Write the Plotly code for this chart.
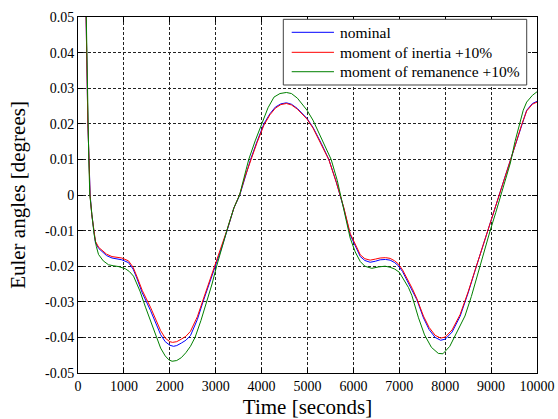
import plotly.graph_objects as go

# ---------------- data ----------------
t_nominal = [150, 185, 215, 240, 265, 300, 340, 380, 450, 520, 620, 740, 850, 955,
             1100, 1200, 1280, 1400, 1578, 1700, 1800, 1900, 2000, 2080, 2150, 2250,
             2350, 2450, 2600, 2724, 2860, 2992, 3138, 3260, 3395, 3525, 3640, 3760,
             3900, 4050, 4180, 4300, 4420, 4540, 4650, 4780, 4990, 5120, 5300, 5465,
             5630, 5790, 5930, 6040, 6150, 6250, 6365, 6480, 6583, 6700, 6800, 6900,
             6982, 7070, 7164, 7280, 7382, 7526, 7650, 7780, 7900, 8000, 8150, 8324,
             8500, 8680, 8800, 8927, 9050, 9177, 9300, 9427, 9550, 9667, 9775, 9900, 10000]
y_nominal = [0.07, 0.040, 0.020, 0.010, 0.000, -0.0055, -0.0100, -0.0134, -0.0150, -0.0158,
             -0.0170, -0.0177, -0.0180, -0.0182, -0.0190, -0.0208, -0.0233, -0.0275, -0.0324,
             -0.0362, -0.0392, -0.0412, -0.0422, -0.0425, -0.0423, -0.0416, -0.0408, -0.0395,
             -0.0350, -0.0300, -0.0250, -0.0200, -0.0145, -0.0095, -0.0037, 0.0000, 0.0052,
             0.0100, 0.0150, 0.0200, 0.0228, 0.0247, 0.0256, 0.0259, 0.0255, 0.0243, 0.0215,
             0.0190, 0.0145, 0.0100, 0.0035, -0.0037, -0.0112, -0.0145, -0.0173, -0.0184,
             -0.0189, -0.0186, -0.0182, -0.0181, -0.0183, -0.0190, -0.0199, -0.0215, -0.0238,
             -0.0265, -0.0294, -0.0345, -0.0378, -0.0400, -0.0408, -0.0405, -0.0385, -0.0341,
             -0.0275, -0.0200, -0.0150, -0.0100, -0.0050, 0.0000, 0.0050, 0.0100, 0.0152,
             0.0200, 0.0238, 0.0257, 0.0263]

t_inertia = [150, 185, 192, 215, 240, 262, 300, 340, 380, 450, 520, 620, 740, 850, 955,
             1100, 1200, 1280, 1400, 1578, 1700, 1800, 1900, 2000, 2060, 2150, 2250,
             2350, 2450, 2600, 2724, 2860, 2992, 3138, 3260, 3395, 3525, 3640, 3760,
             3900, 4050, 4180, 4300, 4420, 4540, 4650, 4780, 4990, 5120, 5300, 5465,
             5630, 5790, 5930, 6040, 6150, 6250, 6365, 6480, 6583, 6700, 6800, 6900,
             6982, 7070, 7164, 7280, 7382, 7526, 7650, 7780, 7900, 8000, 8150, 8324,
             8500, 8680, 8800, 8927, 9050, 9177, 9300, 9427, 9550, 9667, 9775, 9900, 10000]
y_inertia = [0.07, 0.040, 0.035, 0.020, 0.010, 0.000, -0.0055, -0.0098, -0.0130, -0.0147,
             -0.0155, -0.0166, -0.0173, -0.0176, -0.0177, -0.0185, -0.0203, -0.0228, -0.0268,
             -0.0315, -0.0352, -0.0381, -0.0402, -0.0412, -0.0414, -0.0412, -0.0405, -0.0397,
             -0.0383, -0.0342, -0.0295, -0.0245, -0.0195, -0.0142, -0.0093, -0.0037, 0.0002,
             0.0052, 0.0098, 0.0147, 0.0196, 0.0225, 0.0244, 0.0254, 0.0257, 0.0253, 0.0241,
             0.0213, 0.0188, 0.0143, 0.0099, 0.0035, -0.0035, -0.0108, -0.0140, -0.0168,
             -0.0179, -0.0183, -0.0180, -0.0177, -0.0176, -0.0178, -0.0185, -0.0194, -0.0210,
             -0.0233, -0.0262, -0.0291, -0.0340, -0.0372, -0.0394, -0.0402, -0.0399, -0.0379,
             -0.0336, -0.0272, -0.0198, -0.0149, -0.0100, -0.0050, 0.0000, 0.0049, 0.0098,
             0.0150, 0.0198, 0.0236, 0.0255, 0.0261]

t_remanence = [140, 215, 235, 257, 300, 350, 400, 447, 550, 665, 780, 880, 1030, 1120,
               1210, 1350, 1470, 1578, 1700, 1800, 1900, 1980, 2050, 2150, 2250, 2350,
               2450, 2550, 2680, 2810, 2920, 3020, 3150, 3270, 3400, 3520, 3620, 3720,
               3860, 4000, 4140, 4270, 4400, 4540, 4650, 4780, 4990, 5120, 5300, 5515,
               5650, 5790, 5930, 6040, 6150, 6250, 6400, 6550, 6690, 6800, 6900, 7000,
               7100, 7200, 7273, 7418, 7550, 7700, 7850, 7950, 8100, 8250, 8430, 8570,
               8700, 8850, 8980, 9100, 9220, 9420, 9520, 9616, 9700, 9775, 9900, 10000]
y_remanence = [0.08, 0.020, 0.010, 0.000, -0.0060, -0.0110, -0.0145, -0.0167, -0.0185,
               -0.0196, -0.0199, -0.0201, -0.0207, -0.0215, -0.0228, -0.0270, -0.0315,
               -0.0354, -0.0398, -0.0430, -0.0452, -0.0463, -0.0467, -0.0465, -0.0457,
               -0.0443, -0.0425, -0.0400, -0.0352, -0.0300, -0.0250, -0.0200, -0.0140,
               -0.0088, -0.0035, 0.0000, 0.0050, 0.0100, 0.0152, 0.0200, 0.0245, 0.0275,
               0.0285, 0.0288, 0.0285, 0.0272, 0.0238, 0.0210, 0.0160, 0.0100, 0.0040,
               -0.0040, -0.0121, -0.0160, -0.0187, -0.0200, -0.0206, -0.0202, -0.0200,
               -0.0203, -0.0208, -0.0217, -0.0238, -0.0260, -0.0282, -0.0345, -0.0393,
               -0.0428, -0.0445, -0.0446, -0.0425, -0.0385, -0.0340, -0.0285, -0.0225,
               -0.0160, -0.0100, -0.0050, 0.0000, 0.0090, 0.0150, 0.0200, 0.0238, 0.0261,
               0.0280, 0.0290]

series_names = ["nominal", "moment of inertia +10%", "moment of remanence +10%"]
series_colors = ["#0000ff", "#ff0000", "#008000"]

x_tickvals = [0, 1000, 2000, 3000, 4000, 5000, 6000, 7000, 8000, 9000, 10000]
x_ticktext = ["0", "1000", "2000", "3000", "4000", "5000", "6000", "7000", "8000", "9000", "10000"]
y_tickvals = [0.05, 0.04, 0.03, 0.02, 0.01, 0, -0.01, -0.02, -0.03, -0.04, -0.05]
y_ticktext = ["0.05", "0.04", "0.03", "0.02", "0.01", "0", "-0.01", "-0.02", "-0.03", "-0.04", "-0.05"]

x_title = "Time [seconds]"
y_title = "Euler angles [degrees]"

# ---------------- figure ----------------
FONT = "'Liberation Serif', 'Times New Roman', Times, serif"
fig = go.Figure()
for t, y, name, color in zip([t_nominal, t_inertia, t_remanence],
                             [y_nominal, y_inertia, y_remanence],
                             series_names, series_colors):
    fig.add_trace(go.Scatter(x=t, y=y, mode="lines", name=name,
                             line=dict(color=color, width=1)))

axis_common = dict(
    showline=True, linecolor="#000000", linewidth=1, mirror="ticks",
    ticks="inside", ticklen=5, tickwidth=1, tickcolor="#000000",
    showgrid=True, gridcolor="#222222", gridwidth=1, griddash="3px,2px",
    zeroline=False, automargin=False,
    tickfont=dict(family=FONT, size=14, color="#000000"),
)

# ---- legend box (MATLAB style), placed in paper coordinates ----
LEG_X0, LEG_X1, LEG_Y0, LEG_Y1 = 0.4473, 0.9776, 0.8090, 0.9935
SAMPLE_X0, SAMPLE_X1, TEXT_X = 0.4656, 0.5577, 0.5671
ROW_Y = [0.9570, 0.9008, 0.8463]

shapes = [dict(type="rect", xref="paper", yref="paper",
               x0=LEG_X0, x1=LEG_X1, y0=LEG_Y0, y1=LEG_Y1,
               line=dict(color="#404040", width=1), fillcolor="white", layer="above")]
annotations = []
for name, color, ry in zip(series_names, series_colors, ROW_Y):
    shapes.append(dict(type="line", xref="paper", yref="paper",
                       x0=SAMPLE_X0, x1=SAMPLE_X1, y0=ry, y1=ry,
                       line=dict(color=color, width=1), layer="above"))
    annotations.append(dict(xref="paper", yref="paper", x=TEXT_X, y=ry,
                            xanchor="left", yanchor="middle", showarrow=False,
                            text=name, font=dict(family=FONT, size=15.5, color="#000000")))

fig.update_layout(
    width=558, height=419,
    margin=dict(l=78, r=21, t=17, b=46),
    paper_bgcolor="white", plot_bgcolor="white",
    font=dict(family=FONT, color="#000000"),
    showlegend=False,
    shapes=shapes,
    annotations=annotations,
    xaxis=dict(range=[0, 10000], tickvals=x_tickvals, ticktext=x_ticktext,
               title=dict(text=x_title, font=dict(family=FONT, size=21), standoff=7),
               **axis_common),
    yaxis=dict(range=[-0.05, 0.05], tickvals=y_tickvals, ticktext=y_ticktext,
               title=dict(text=y_title, font=dict(family=FONT, size=21), standoff=13),
               **axis_common),
)

fig.write_html("out.html",
               config={"displayModeBar": False},
               post_script="document.body.style.margin='0px';document.body.style.padding='0px';")
